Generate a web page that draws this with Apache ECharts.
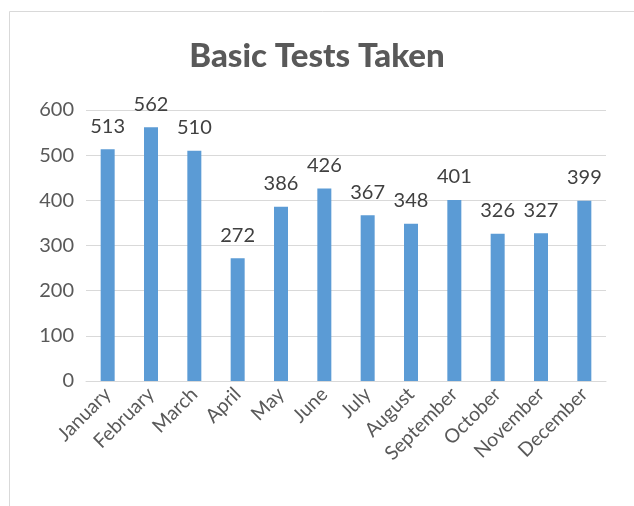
<!DOCTYPE html>
<html>
<head>
<meta charset="utf-8">
<script src="https://cdn.jsdelivr.net/npm/echarts@6/dist/echarts.min.js"></script>
<style>
  html, body { margin: 0; padding: 0; background: #fff; }
  #chart { width: 634px; height: 506px; }
</style>
</head>
<body>
<div id="chart"></div>
<script>
// monthly counts
var months = ['January', 'February', 'March', 'April', 'May', 'June', 'July',
  'August', 'September', 'October', 'November', 'December'];
var tests = [513, 562, 510, 272, 386, 426, 367, 348, 401, 326, 327, 399];

var chart = echarts.init(document.getElementById('chart'));

chart.setOption({
  animation: false,
  textStyle: { fontFamily: 'Lato, "Open Sans", sans-serif' },
  title: {
    text: 'Basic Tests Taken',
    left: 'center',
    top: 35,
    textStyle: { fontSize: 33, fontWeight: 900, color: '#595959', fontFamily: 'Lato' }
  },
  graphic: [{
    type: 'rect',
    shape: { x: 9.5, y: 11.5, width: 700, height: 600 },
    style: { fill: 'none', stroke: '#d9d9d9', lineWidth: 1 },
    silent: true
  }],
  grid: { left: 86, right: 28, top: 110, bottom: 125 },
  xAxis: {
    type: 'category',
    data: months,
    axisLine: { lineStyle: { color: '#d9d9d9', width: 1 } },
    axisTick: { show: false },
    axisLabel: { rotate: 45, fontSize: 19.5, color: '#595959', interval: 0, margin: 10 }
  },
  yAxis: {
    type: 'value',
    min: 0,
    max: 600,
    interval: 100,
    axisLine: { show: false },
    axisTick: { show: false },
    splitLine: { lineStyle: { color: '#d9d9d9', width: 1 } },
    axisLabel: { fontSize: 20, color: '#595959', margin: 12 }
  },
  series: [{
    type: 'bar',
    data: tests,
    barWidth: 14,
    itemStyle: { color: '#5b9bd5' },
    label: {
      show: true,
      position: 'top',
      distance: 13,
      fontSize: 20,
      color: '#404040'
    }
  }]
});
</script>
</body>
</html>
